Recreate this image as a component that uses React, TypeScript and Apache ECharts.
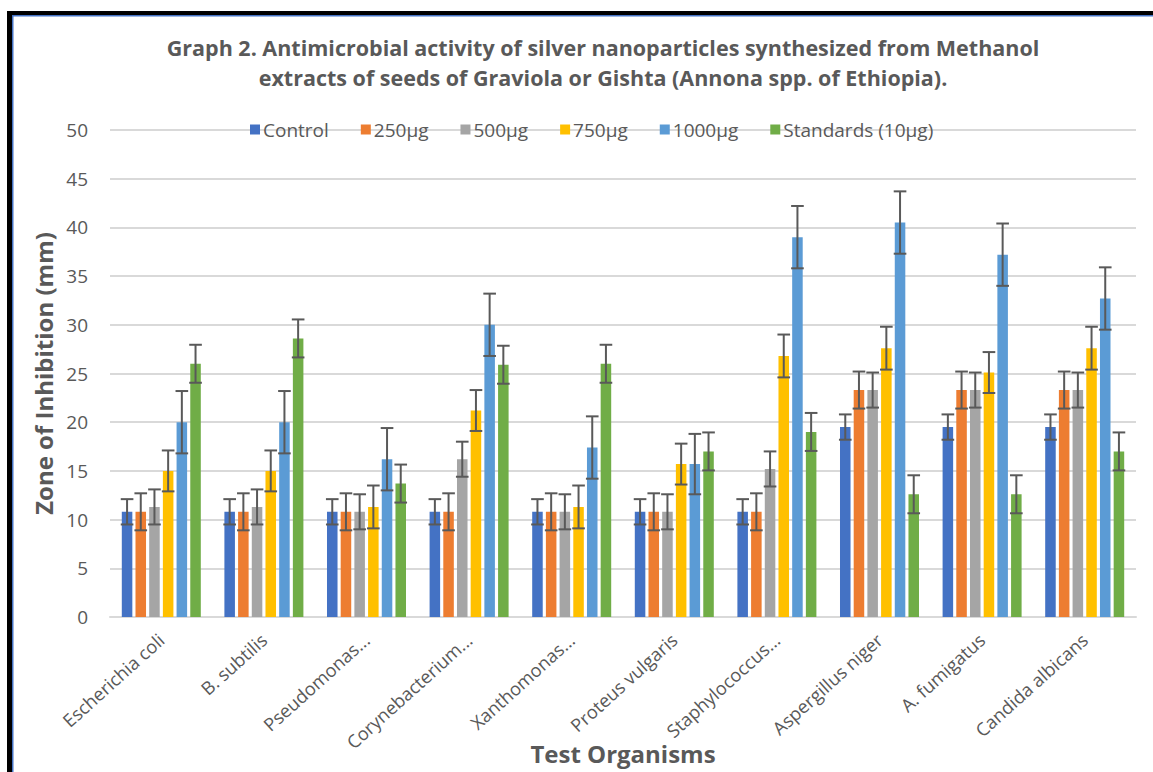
import React, { useEffect, useRef } from "react";
import * as echarts from "echarts";

const categories = [
  "Escherichia coli",
  "B. subtilis",
  "Pseudomonas...",
  "Corynebacterium...",
  "Xanthomonas...",
  "Proteus vulgaris",
  "Staphylococcus...",
  "Aspergillus niger",
  "A. fumigatus",
  "Candida albicans",
];

const seriesNames = ["Control", "250µg", "500µg", "750µg", "1000µg", "Standards (10µg)"];
const seriesColors = ["#4472C4", "#ED7D31", "#A5A5A5", "#FFC000", "#5B9BD5", "#70AD47"];

const control = [10.8, 10.8, 10.8, 10.8, 10.8, 10.8, 10.8, 19.5, 19.5, 19.5];
const ug250 = [10.8, 10.8, 10.8, 10.8, 10.8, 10.8, 10.8, 23.3, 23.3, 23.3];
const ug500 = [11.3, 11.3, 10.8, 16.2, 10.8, 10.8, 15.2, 23.3, 23.3, 23.3];
const ug750 = [15, 15, 11.3, 21.2, 11.3, 15.7, 26.8, 27.6, 25.1, 27.6];
const ug1000 = [20, 20, 16.2, 30, 17.4, 15.7, 39, 40.5, 37.2, 32.7];
const standards = [26, 28.6, 13.7, 25.9, 26, 17, 19, 12.6, 12.6, 17];

const errControl = [1.3, 1.3, 1.3, 1.3, 1.3, 1.3, 1.3, 1.3, 1.3, 1.3];
const err250 = [1.9, 1.9, 1.9, 1.9, 1.9, 1.9, 1.9, 1.9, 1.9, 1.9];
const err500 = [1.8, 1.8, 1.8, 1.8, 1.8, 1.8, 1.8, 1.8, 1.8, 1.8];
const err750 = [2.1, 2.1, 2.2, 2.1, 2.2, 2.1, 2.2, 2.2, 2.1, 2.2];
const err1000 = [3.2, 3.2, 3.2, 3.2, 3.2, 3.1, 3.2, 3.2, 3.2, 3.2];
const errStandards = [1.95, 1.95, 1.95, 1.95, 1.95, 1.95, 1.95, 1.95, 1.95, 1.95];

const yTicks = [0, 5, 10, 15, 20, 25, 30, 35, 40, 45, 50];

const allValues = [control, ug250, ug500, ug750, ug1000, standards];
const allErrors = [errControl, err250, err500, err750, err1000, errStandards];

const FONT = "Open Sans";
const TEXT = "#595959";
const BAR_GAP = 0.3;
const CAT_GAP = 0.23;

export default function App() {
  const ref = useRef<HTMLDivElement>(null);
  useEffect(() => {
    if (!ref.current) return;
    const chart = echarts.init(ref.current, null, { renderer: "svg" });
    const n = seriesNames.length;

    const barSeries = seriesNames.map((name, i) => ({
      name,
      type: "bar",
      data: allValues[i],
      itemStyle: { color: seriesColors[i] },
      barGap: BAR_GAP * 100 + "%",
      barCategoryGap: CAT_GAP * 100 + "%",
      z: 2,
    }));

    const errSeries = seriesNames.map((name, i) => ({
      name: name + " err",
      type: "custom",
      z: 5,
      silent: true,
      data: allValues[i].map((v, k) => [k, v - allErrors[i][k], v + allErrors[i][k]]),
      encode: { x: 0, y: [1, 2] },
      renderItem: (params: any, api: any) => {
        const idx = api.value(0);
        const lo = api.coord([idx, api.value(1)]);
        const hi = api.coord([idx, api.value(2)]);
        const band = api.size([1, 0])[0];
        const group = band * (1 - CAT_GAP);
        const bw = group / (n + (n - 1) * BAR_GAP);
        const x = lo[0] - group / 2 + i * bw * (1 + BAR_GAP) + bw / 2;
        const cap = bw * 0.6;
        const style = { stroke: "#595959", lineWidth: 2 };
        return {
          type: "group",
          children: [
            { type: "line", shape: { x1: x, y1: lo[1], x2: x, y2: hi[1] }, style },
            { type: "line", shape: { x1: x - cap, y1: hi[1], x2: x + cap, y2: hi[1] }, style },
            { type: "line", shape: { x1: x - cap, y1: lo[1], x2: x + cap, y2: lo[1] }, style },
          ],
        };
      },
    }));

    chart.setOption({
      animation: false,
      backgroundColor: "#ffffff",
      textStyle: { fontFamily: FONT },
      title: {
        text: "Graph 2. Antimicrobial activity of silver nanoparticles synthesized from Methanol\nextracts of seeds of Graviola or Gishta (Annona spp. of Ethiopia).",
        left: 598,
        top: 27,
        textAlign: "center",
        textStyle: {
          fontFamily: FONT,
          fontSize: 21.5,
          fontWeight: "bold",
          color: TEXT,
          lineHeight: 30,
        },
      },
      legend: {
        data: seriesNames,
        left: 245,
        top: 115,
        itemWidth: 10,
        itemHeight: 10,
        itemGap: 32,
        icon: "rect",
        textStyle: { fontFamily: FONT, fontSize: 19, color: TEXT, padding: [0, 0, 0, -2] },
      },
      grid: { left: 110, right: 17, top: 130, bottom: 155, containLabel: false, outerBoundsMode: "none" },
      xAxis: {
        type: "category",
        data: categories,
        axisLine: { lineStyle: { color: "#D9D9D9", width: 2 } },
        axisTick: { show: false },
        axisLabel: {
          interval: 0,
          rotate: 42,
          margin: 20,
          fontFamily: FONT,
          fontSize: 18.2,
          color: TEXT,
        },
        name: "Test Organisms",
        nameLocation: "middle",
        nameGap: 124,
        nameMoveOverlap: false,
        nameTextStyle: { fontFamily: FONT, fontSize: 24, fontWeight: "bold", color: TEXT },
      },
      yAxis: {
        type: "value",
        min: yTicks[0],
        max: yTicks[yTicks.length - 1],
        interval: 5,
        axisLine: { show: false },
        axisTick: { show: false },
        splitLine: { lineStyle: { color: "#D9D9D9", width: 2 } },
        axisLabel: { fontFamily: FONT, fontSize: 19, color: TEXT, margin: 22 },
        name: "Zone of Inhibition (mm)",
        nameLocation: "middle",
        nameGap: 55,
        nameMoveOverlap: false,
        nameTextStyle: { fontFamily: FONT, fontSize: 24, fontWeight: "bold", color: TEXT },
      },
      graphic: [
        { type: "rect", shape: { x: 7, y: 11, width: 1160, height: 4 }, style: { fill: "#000000" }, z: 100 },
        { type: "rect", shape: { x: 12, y: 15, width: 1160, height: 1.5 }, style: { fill: "#4472C4" }, z: 100 },
        { type: "rect", shape: { x: 7, y: 11, width: 5, height: 780 }, style: { fill: "#000000" }, z: 100 },
        { type: "rect", shape: { x: 12, y: 15, width: 1.5, height: 780 }, style: { fill: "#4472C4" }, z: 100 },
      ],
      series: [...barSeries, ...errSeries],
    });
    return () => chart.dispose();
  }, []);
  return (
    <div
      ref={ref}
      style={{ position: "fixed", left: 0, top: 0, width: 1153, height: 772, background: "#fff" }}
    />
  );
}
